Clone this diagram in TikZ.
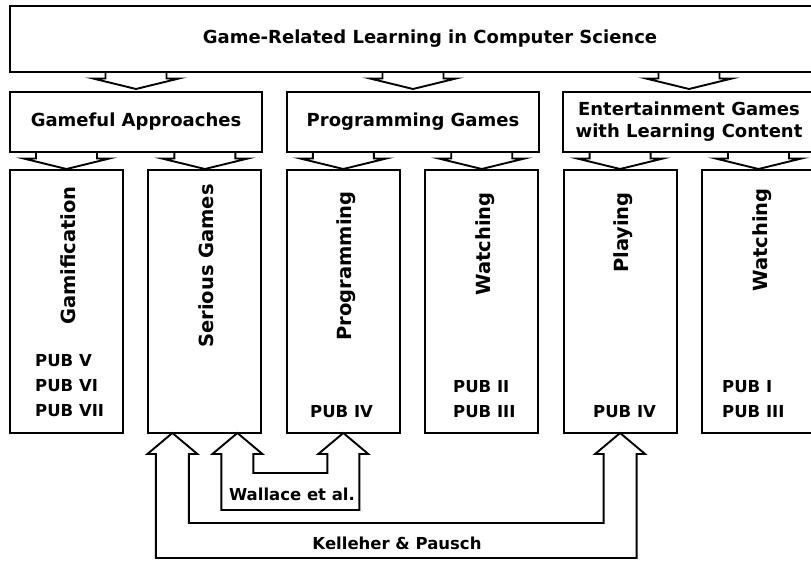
\documentclass[tikz,border=0pt]{standalone}
\usepackage{fontspec}
\setmainfont{DejaVu Sans}
\usetikzlibrary{calc}

\tikzset{
  outline/.style={draw=black, line width=1.9pt, line join=miter},
  framebox/.style={outline, rectangle, inner sep=0pt, outer sep=0pt, fill=white},
  topbox/.style={framebox, minimum width=840pt, minimum height=66pt},
  groupbox/.style={framebox, minimum width=252pt, minimum height=60pt},
  leafbox/.style={framebox, minimum width=113pt, minimum height=263pt},
  titletext/.style={font=\bfseries\fontsize{18}{21}\selectfont, inner sep=0pt},
  grouptext/.style={font=\bfseries\fontsize{18}{22}\selectfont, inner sep=0pt, align=center},
  vlabel/.style={font=\bfseries\fontsize{19.5}{22}\selectfont, inner sep=0pt, rotate=90, anchor=base east},
  pubtext/.style={font=\bfseries\fontsize{16.5}{19}\selectfont, inner sep=0pt, anchor=base west},
  citetext/.style={font=\bfseries\fontsize{16.5}{20}\selectfont, inner sep=0pt},
}

% block arrow pointing down from the parent box onto the child box
\newcommand{\blockdown}[2]{%
  \draw[outline] (#1.south -| #2.north) ++(-30.5,0) -- ++(0,6.5) -- ++(-12.5,0)
    -- ++(43,10.5) -- ++(43,-10.5) -- ++(-12.5,0) -- ++(0,-6.5);}

\begin{document}
\begin{tikzpicture}[x=1pt, y=-1pt]
  \useasboundingbox (0,0) rectangle (811,561);
  \clip (0,0) rectangle (811,561);

  % top level
  \node[topbox] (top) at (430,39) {};
  \node[titletext] (toptitle) at (top.center) {Game-Related Learning in Computer Science};

  % groups
  \node[groupbox] (ga) at (136,122) {};
  \node[groupbox] (pg) at (413,122) {};
  \node[groupbox] (eg) at (689,122) {};
  \node[grouptext] (galbl) at (ga.center) {Gameful Approaches};
  \node[grouptext] (pglbl) at (pg.center) {Programming Games};
  \node[grouptext] (eglbl) at (eg.center) {Entertainment Games\\with Learning Content};

  % leaves
  \node[leafbox] (gam) at (66.5,301.5) {};
  \node[leafbox] (ser) at (204.9,301.5) {};
  \node[leafbox] (pro) at (343.3,301.5) {};
  \node[leafbox] (wa1) at (481.7,301.5) {};
  \node[leafbox] (pla) at (620.1,301.5) {};
  \node[leafbox] (wa2) at (758.5,301.5) {};

  \node[vlabel] (gamlbl) at ([xshift=8.5pt, yshift=-16pt]gam.north) {Gamification};
  \node[vlabel] (serlbl) at ([xshift=8.5pt, yshift=-14pt]ser.north) {Serious Games};
  \node[vlabel] (prolbl) at ([xshift=8.5pt, yshift=-21pt]pro.north) {Programming};
  \node[vlabel] (wa1lbl) at ([xshift=8.5pt, yshift=-22pt]wa1.north) {Watching};
  \node[vlabel] (plalbl) at ([xshift=8.5pt, yshift=-22pt]pla.north) {Playing};
  \node[vlabel] (wa2lbl) at ([xshift=8.5pt, yshift=-18pt]wa2.north) {Watching};

  % publications per leaf
  \node[pubtext] (p5) at (35,366.5) {PUB V};
  \node[pubtext] (p6) at (35,391.5) {PUB VI};
  \node[pubtext] (p7) at (35,416.5) {PUB VII};
  \node[pubtext] (p4a) at (310,417.5) {PUB IV};
  \node[pubtext] (p2) at (453,392.5) {PUB II};
  \node[pubtext] (p3a) at (453,417.5) {PUB III};
  \node[pubtext] (p4b) at (593,417.5) {PUB IV};
  \node[pubtext] (p1) at (722,392.5) {PUB I};
  \node[pubtext] (p3b) at (722,417.5) {PUB III};

  % hierarchy arrows
  \blockdown{top}{ga}
  \blockdown{top}{pg}
  \blockdown{top}{eg}
  \blockdown{ga}{gam}
  \blockdown{ga}{ser}
  \blockdown{pg}{pro}
  \blockdown{pg}{wa1}
  \blockdown{eg}{pla}
  \blockdown{eg}{wa2}

  % Wallace et al.: Serious Games <-> Programming
  \coordinate (wA) at ([xshift=32.5pt]ser.south);
  \coordinate (wB) at (pro.south);
  \draw[outline] (wA) -- ++(25,21) -- ++(-9,0) -- ++(0,19)
    -| ($(wB)+(-16,21)$) -- ++(-9,0) -- (wB) -- ++(25,21) -- ++(-9,0) -- ++(0,56)
    -| ($(wA)+(-16,21)$) -- ++(-9,0) -- cycle;
  \node[citetext] (wallace) at (292,494) {Wallace et al.};

  % Kelleher & Pausch: Serious Games <-> Playing
  \coordinate (kA) at ([xshift=-32.5pt]ser.south);
  \coordinate (kB) at (pla.south);
  \draw[outline] (kA) -- ++(25,21) -- ++(-8.5,0) -- ++(0,69)
    -| ($(kB)+(-16.5,21)$) -- ++(-8.5,0) -- (kB) -- ++(25,21) -- ++(-8.5,0) -- ++(0,104)
    -| ($(kA)+(-16.5,21)$) -- ++(-8.5,0) -- cycle;
  \node[citetext] (kelleher) at (397,543) {Kelleher \& Pausch};
\end{tikzpicture}
\end{document}
